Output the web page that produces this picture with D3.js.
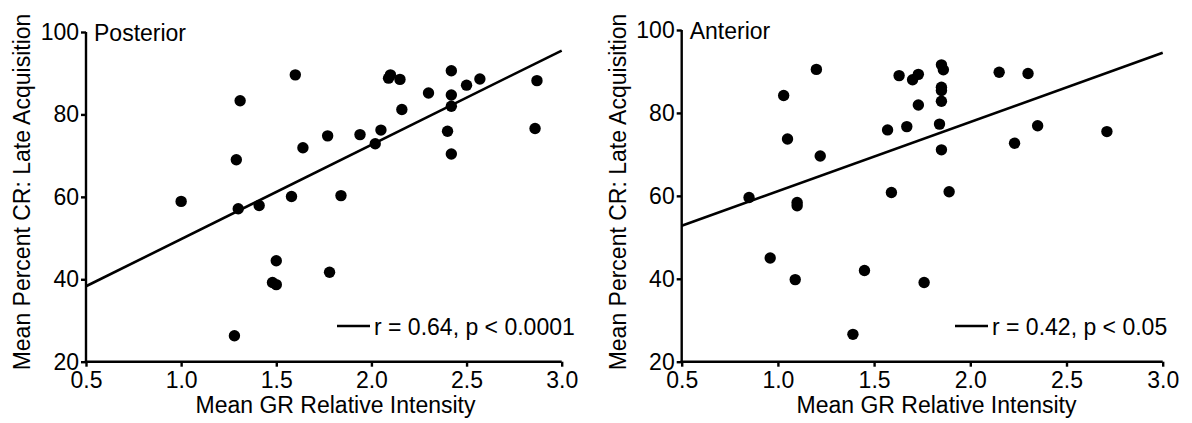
<!DOCTYPE html>
<html>
<head>
<meta charset="utf-8">
<script src="https://cdn.jsdelivr.net/npm/d3@7"></script>
<style>
  html, body { margin: 0; padding: 0; background: #fff; }
  svg { display: block; }
  text { font-family: "Liberation Sans", Arial, Helvetica, sans-serif; fill: #000; }
</style>
</head>
<body>
<svg id="chart" width="1192" height="423"></svg>
<script>
// ---- Data ----
const xTicks = [0.5, 1.0, 1.5, 2.0, 2.5, 3.0];
const yTicks = [20, 40, 60, 80, 100];
const xTitle = "Mean GR Relative Intensity";
const yTitle = "Mean Percent CR: Late Acquisition";

const posteriorX = [1.00, 1.31, 1.29, 1.30, 1.41, 1.28, 1.50, 1.48, 1.50, 1.58, 1.60, 1.64, 1.77, 1.78, 1.84, 1.94,
                    2.02, 2.05, 2.09, 2.10, 2.15, 2.16, 2.30, 2.42, 2.42, 2.42, 2.40, 2.42, 2.50, 2.57, 2.87, 2.86];
const posteriorY = [58.9, 83.3, 69.0, 57.1, 57.9, 26.3, 44.5, 39.2, 38.7, 60.1, 89.6, 71.9, 74.8, 41.7, 60.3, 75.1,
                    72.9, 76.2, 88.8, 89.6, 88.5, 81.2, 85.2, 90.6, 84.7, 82.0, 75.9, 70.4, 87.1, 88.6, 88.2, 76.6];
const posteriorFitX = [0.5, 3.0];
const posteriorFitY = [38.3, 95.5];
const posteriorLabel = "Posterior";
const posteriorStat = "r = 0.64, p < 0.0001";

const anteriorX = [0.85, 0.96, 1.03, 1.05, 1.09, 1.10, 1.10, 1.20, 1.22, 1.39, 1.45, 1.57, 1.59, 1.63, 1.67, 1.70,
                   1.73, 1.73, 1.76, 1.84, 1.85, 1.86, 1.85, 1.85, 1.85, 1.85, 1.89, 2.15, 2.23, 2.30, 2.35, 2.71];
const anteriorY = [59.6, 45.0, 84.2, 73.7, 39.8, 58.4, 57.6, 90.5, 69.6, 26.6, 42.0, 75.9, 60.8, 89.0, 76.7, 88.0,
                   89.3, 81.9, 39.1, 77.3, 91.6, 90.4, 86.2, 85.4, 82.8, 71.1, 61.0, 89.8, 72.7, 89.5, 76.9, 75.5];
const anteriorFitX = [0.5, 3.0];
const anteriorFitY = [52.8, 94.5];
const anteriorLabel = "Anterior";
const anteriorStat = "r = 0.42, p < 0.05";

// ---- Layout ----
const svg = d3.select("#chart");
const FS = 23;

function drawPanel(cfg) {
  const x = d3.scaleLinear().domain([0.5, 3.0]).range([cfg.x0, cfg.x1]);
  const y = d3.scaleLinear().domain([20, 100]).range([cfg.yBottom, cfg.yTop]);
  const g = svg.append("g");

  // y axis
  const ya = g.append("g").attr("transform", `translate(${cfg.x0},0)`)
    .call(d3.axisLeft(y).tickValues(yTicks).tickFormat(d3.format("d")).tickSizeOuter(0).tickSizeInner(5).tickPadding(2));
  // x axis
  const xa = g.append("g").attr("transform", `translate(0,${cfg.yBottom})`)
    .call(d3.axisBottom(x).tickValues(xTicks).tickFormat(d3.format(".1f")).tickSizeOuter(0).tickSizeInner(5).tickPadding(5));
  [ya, xa].forEach(a => {
    a.select(".domain").attr("stroke", "#000").attr("stroke-width", 2.4);
    a.selectAll(".tick line").attr("stroke", "#000").attr("stroke-width", 2.4);
    a.selectAll(".tick text").style("font-size", FS + "px").style("font-family", '"Liberation Sans", Arial, sans-serif').attr("fill", "#000");
  });
  // extend domain lines to meet at corner
  ya.select(".domain").attr("d", `M0,${cfg.yBottom + 1.2}V${cfg.yTop}`);
  xa.select(".domain").attr("d", `M${cfg.x0 - 1.2},0H${cfg.x1}`);

  // regression line
  const fit = cfg.fitX.map((v, i) => [v, cfg.fitY[i]]);
  g.append("path")
    .attr("d", d3.line().x(d => x(d[0])).y(d => y(d[1]))(fit))
    .attr("stroke", "#000").attr("stroke-width", 2.6).attr("fill", "none");

  // points
  const pts = cfg.xs.map((v, i) => [v, cfg.ys[i]]);
  g.selectAll("circle.pt").data(pts).enter().append("circle")
    .attr("class", "pt")
    .attr("cx", d => x(d[0])).attr("cy", d => y(d[1])).attr("r", 5.7).attr("fill", "#000");

  // panel label
  g.append("text").attr("x", cfg.x0 + 8).attr("y", cfg.yTop + 9)
    .style("font-size", FS + "px").text(cfg.label);

  // legend
  g.append("line").attr("x1", cfg.legX).attr("x2", cfg.legX + 33)
    .attr("y1", 326).attr("y2", 326).attr("stroke", "#000").attr("stroke-width", 2.6);
  g.append("text").attr("x", cfg.legX + 37).attr("y", 334.5)
    .style("font-size", FS + "px").text(cfg.stat);

  // axis titles
  g.append("text").attr("x", cfg.xTitleX).attr("y", 413).attr("text-anchor", "middle")
    .style("font-size", FS + "px").text(xTitle);
  g.append("text").attr("transform", `translate(${cfg.yTitleX},192) rotate(-90)`).attr("text-anchor", "middle")
    .style("font-size", FS + "px").text(yTitle);
}

drawPanel({
  x0: 86, x1: 561.7, yTop: 32, yBottom: 361.7,
  xs: posteriorX, ys: posteriorY, fitX: posteriorFitX, fitY: posteriorFitY,
  label: posteriorLabel, stat: posteriorStat, legX: 337,
  xTitleX: 335.5, yTitleX: 30
});
drawPanel({
  x0: 681.7, x1: 1162.7, yTop: 30, yBottom: 361.7,
  xs: anteriorX, ys: anteriorY, fitX: anteriorFitX, fitY: anteriorFitY,
  label: anteriorLabel, stat: anteriorStat, legX: 955,
  xTitleX: 936.5, yTitleX: 626
});
</script>
</body>
</html>
